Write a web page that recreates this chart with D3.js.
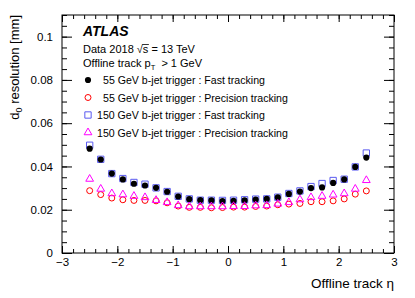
<!DOCTYPE html>
<html><head><meta charset="utf-8">
<script src="https://cdn.jsdelivr.net/npm/d3@7"></script>
<style>
html,body{margin:0;padding:0;background:#fff;}
svg{display:block;font-family:"Liberation Sans",Arial,Helvetica,sans-serif;}
</style></head>
<body>
<svg id="c" width="415" height="298"></svg>
<script>
// ---- data ----
const eta = [-2.5,-2.3,-2.1,-1.9,-1.7,-1.5,-1.3,-1.1,-0.9,-0.7,-0.5,-0.3,-0.1,0.1,0.3,0.5,0.7,0.9,1.1,1.3,1.5,1.7,1.9,2.1,2.3,2.5];
const fast55 = [0.0482,0.0432,0.0367,0.0340,0.0320,0.0312,0.0301,0.0283,0.0261,0.0249,0.0244,0.0243,0.0240,0.0241,0.0243,0.0247,0.0250,0.0257,0.0273,0.0284,0.0300,0.0303,0.0324,0.0340,0.0398,0.0441];
const prec55 = [0.0288,0.0270,0.0254,0.0246,0.0243,0.0243,0.0241,0.0232,0.0217,0.0211,0.0211,0.0209,0.0210,0.0212,0.0212,0.0215,0.0217,0.0223,0.0226,0.0229,0.0237,0.0237,0.0241,0.0250,0.0272,0.0287];
const fast150 = [0.0498,0.0433,0.0367,0.0344,0.0326,0.0318,0.0301,0.0284,0.0262,0.0250,0.0244,0.0244,0.0243,0.0244,0.0246,0.0249,0.0250,0.0258,0.0275,0.0287,0.0307,0.0321,0.0335,0.0341,0.0398,0.0462];
const prec150 = [0.0342,0.0296,0.0275,0.0270,0.0263,0.0257,0.0244,0.0234,0.0220,0.0215,0.0215,0.0215,0.0215,0.0216,0.0216,0.0219,0.0220,0.0227,0.0234,0.0247,0.0257,0.0263,0.0269,0.0275,0.0296,0.0336];
const seriesNames = ["55 GeV b-jet trigger : Fast tracking","55 GeV b-jet trigger : Precision tracking","150 GeV b-jet trigger : Fast tracking","150 GeV b-jet trigger : Precision tracking"];
const xTicks = [-3,-2,-1,0,1,2,3];
const xTickLabels = ["\u22123","\u22122","\u22121","0","1","2","3"];
const yTicks = [0,0.02,0.04,0.06,0.08,0.1];
const yTickLabels = ["0","0.02","0.04","0.06","0.08","0.1"];

// ---- chart ----
const svg = d3.select("#c");
const x = d3.scaleLinear().domain([-3,3]).range([62,394]);
const y = d3.scaleLinear().domain([0,0.11]).range([253,15]);
const X0 = x.range()[0], X1 = x.range()[1], Y0 = y.range()[0], Y1 = y.range()[1];

const xMinor = d3.range(-3,3.0001,0.2).map(v=>+v.toFixed(2));
const yMinor = d3.range(0,0.11001,0.005).map(v=>+v.toFixed(4));

function styleAxis(g){ g.select(".domain").remove(); g.selectAll("line").attr("stroke","#000").attr("stroke-width",1); }

// bottom minor + major
svg.append("g").attr("transform",`translate(0,${Y0})`).call(d3.axisBottom(x).tickValues(xMinor).tickSize(-4).tickFormat("")).call(styleAxis);
svg.append("g").attr("transform",`translate(0,${Y0})`)
  .call(d3.axisBottom(x).tickValues(xTicks).tickSize(-7).tickPadding(5).tickFormat((d,i)=>xTickLabels[i]))
  .call(styleAxis).selectAll("text").attr("font-size","11.5px").attr("fill","#000").attr("font-family","Liberation Sans, Arial, sans-serif");
// top
svg.append("g").attr("transform",`translate(0,${Y1})`).call(d3.axisTop(x).tickValues(xMinor).tickSize(-4).tickFormat("")).call(styleAxis);
svg.append("g").attr("transform",`translate(0,${Y1})`).call(d3.axisTop(x).tickValues(xTicks).tickSize(-7).tickFormat("")).call(styleAxis);
// left
svg.append("g").attr("transform",`translate(${X0},0)`).call(d3.axisLeft(y).tickValues(yMinor).tickSize(-5).tickFormat("")).call(styleAxis);
svg.append("g").attr("transform",`translate(${X0},0)`)
  .call(d3.axisLeft(y).tickValues(yTicks).tickSize(-10).tickPadding(9).tickFormat((d,i)=>yTickLabels[i]))
  .call(styleAxis).selectAll("text").attr("font-size","11.5px").attr("fill","#000").attr("font-family","Liberation Sans, Arial, sans-serif");
// right
svg.append("g").attr("transform",`translate(${X1},0)`).call(d3.axisRight(y).tickValues(yMinor).tickSize(-5).tickFormat("")).call(styleAxis);
svg.append("g").attr("transform",`translate(${X1},0)`).call(d3.axisRight(y).tickValues(yTicks).tickSize(-10).tickFormat("")).call(styleAxis);

// frame
svg.append("rect").attr("x",X0).attr("y",Y1).attr("width",X1-X0).attr("height",Y0-Y1)
  .attr("fill","none").attr("stroke","#000").attr("stroke-width",1);

// axis titles
svg.append("text").attr("x",X1).attr("y",288).attr("text-anchor","end").attr("font-size","13.5px").text("Offline track \u03b7");
const yt = svg.append("text").attr("transform",`translate(19,${Y1}) rotate(-90)`).attr("text-anchor","end").attr("font-size","13px");
yt.append("tspan").text("d");
yt.append("tspan").attr("font-size","9px").attr("dy","3").text("0");
yt.append("tspan").attr("dy","-3").text(" resolution [mm]");

// series
const series = [
  {vals:fast55, sym:d3.symbolCircle, size:30, fill:"#000", stroke:"none"},
  {vals:prec55, sym:d3.symbolCircle, size:28, fill:"none", stroke:"#ff0000"},
  {vals:fast150, sym:d3.symbolSquare, size:40, fill:"none", stroke:"#5a5af0"},
  {vals:prec150, sym:d3.symbolTriangle, size:26, fill:"none", stroke:"#ff00ff"}
];
const drawOrder = [2,0,1,3];
drawOrder.forEach(si=>{
  const s = series[si];
  svg.append("g").selectAll("path").data(eta).join("path")
    .attr("transform",(d,i)=>`translate(${x(d)},${y(s.vals[i])})`)
    .attr("d",d3.symbol().type(s.sym).size(s.size))
    .attr("fill",s.fill).attr("stroke",s.stroke).attr("stroke-width",1);
});

// labels
svg.append("text").attr("x",83).attr("y",36).attr("font-size","14px").attr("font-weight","bold").attr("font-style","italic").text("ATLAS");
const dt = svg.append("text").attr("x",83).attr("y",53).attr("font-size","11px");
dt.append("tspan").text("Data 2018 ");
dt.append("tspan").attr("id","sq").text("\u221As");
dt.append("tspan").text(" = 13 TeV");
// overline on s
const sqNode = document.getElementById("sq");
const sqBox = sqNode.getBBox();
svg.append("line").attr("x1",sqBox.x+sqBox.width*0.45).attr("x2",sqBox.x+sqBox.width).attr("y1",sqBox.y+1.5).attr("y2",sqBox.y+1.5).attr("stroke","#000").attr("stroke-width",0.8);

const pt = svg.append("text").attr("x",83).attr("y",67).attr("font-size","11px");
pt.append("tspan").text("Offline track p");
pt.append("tspan").attr("font-size","7.5px").attr("dy","3").text("T");
pt.append("tspan").attr("dy","-3").text("  > 1 GeV");
pt.attr("xml:space","preserve").style("white-space","pre");

const legY = [80,97.5,115,132.5];
const legTextX = [103,103,97,97];
seriesNames.forEach((n,i)=>{
  const s = series[i];
  svg.append("path").attr("transform",`translate(88,${legY[i]})`)
    .attr("d",d3.symbol().type(s.sym).size(s.size)).attr("fill",s.fill).attr("stroke",s.stroke);
  svg.append("text").attr("x",legTextX[i]).attr("y",legY[i]+4).attr("font-size","10.6px").text(n);
});
</script>
</body></html>
